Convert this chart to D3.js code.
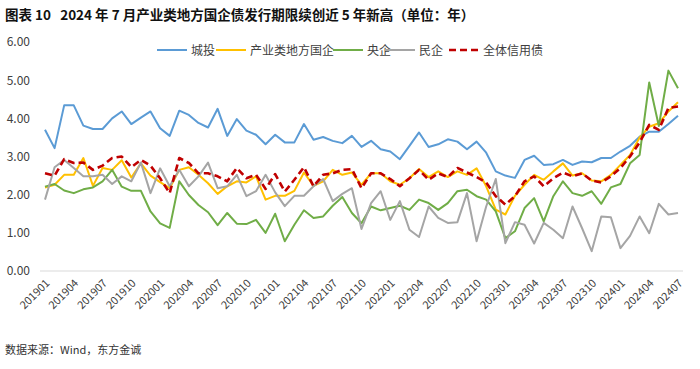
<!DOCTYPE html>
<html>
<head>
<meta charset="utf-8">
<script src="https://cdn.jsdelivr.net/npm/d3@7"></script>
<style>
  body { margin: 0; background: #fff; }
  text { font-family: "Noto Sans CJK SC", "Liberation Sans", sans-serif; }
</style>
</head>
<body>
<svg width="700" height="369"></svg>
<script>
// monthly issue tenor, 2019-01 .. 2024-07
const months = [
  "201901","201902","201903","201904","201905","201906","201907","201908","201909","201910","201911","201912",
  "202001","202002","202003","202004","202005","202006","202007","202008","202009","202010","202011","202012",
  "202101","202102","202103","202104","202105","202106","202107","202108","202109","202110","202111","202112",
  "202201","202202","202203","202204","202205","202206","202207","202208","202209","202210","202211","202212",
  "202301","202302","202303","202304","202305","202306","202307","202308","202309","202310","202311","202312",
  "202401","202402","202403","202404","202405","202406","202407"
];
const tickLabels = ["201901","201904","201907","201910","202001","202004","202007","202010","202101","202104",
  "202107","202110","202201","202204","202207","202210","202301","202304","202307","202310","202401","202404","202407"];
const yTicks = [0, 1, 2, 3, 4, 5, 6];

const chengtou = [3.70,3.22,4.34,4.34,3.81,3.72,3.72,4.00,4.18,3.85,4.02,4.18,
  3.74,3.54,4.20,4.09,3.88,3.76,4.25,3.54,3.98,3.68,3.57,3.32,
  3.57,3.37,3.37,3.85,3.44,3.51,3.41,3.35,3.54,3.25,3.41,3.19,
  3.13,2.93,3.28,3.63,3.25,3.32,3.45,3.39,3.19,3.39,3.10,2.61,
  2.50,2.44,2.91,3.02,2.78,2.80,2.91,2.78,2.87,2.85,2.96,2.96,
  3.13,3.28,3.52,3.65,3.65,3.85,4.07];
const chanye = [2.19,2.26,2.52,2.52,2.96,2.23,2.70,2.65,2.90,2.45,2.82,2.50,
  2.33,2.17,2.65,2.72,2.52,2.30,2.02,2.22,2.35,2.32,2.48,1.87,
  1.97,1.97,2.10,2.58,2.23,2.35,2.65,2.52,2.58,2.26,2.56,2.56,
  2.35,2.26,2.43,2.67,2.46,2.61,2.46,2.61,2.52,2.69,2.22,1.61,
  1.48,1.97,2.26,2.52,2.39,2.61,2.82,2.50,2.56,2.37,2.35,2.52,
  2.78,3.04,3.50,3.78,3.87,4.18,4.42];
const yangqi = [2.21,2.28,2.11,2.04,2.14,2.19,2.35,2.65,2.21,2.10,2.10,1.56,
  1.25,1.13,2.35,1.99,1.73,1.54,1.20,1.52,1.24,1.23,1.34,1.00,
  1.50,0.78,1.21,1.59,1.39,1.43,1.71,1.94,1.52,1.25,1.69,1.59,
  1.65,1.71,1.60,1.87,1.78,1.60,1.78,2.09,2.13,1.96,1.87,1.56,
  0.86,1.04,1.65,1.91,1.30,1.96,2.35,2.04,1.97,2.09,1.76,2.19,
  2.28,2.82,3.04,4.94,3.80,5.25,4.79];
const minqi = [1.87,2.72,2.91,2.70,2.48,2.48,2.52,2.28,2.48,2.35,2.84,2.04,
  2.69,2.22,2.65,2.22,2.48,2.84,2.17,2.22,2.52,1.96,2.09,2.52,
  2.06,1.70,1.97,1.97,2.22,2.41,1.83,2.02,2.17,1.10,1.78,2.09,
  1.34,1.83,1.08,0.89,1.69,1.39,1.26,1.28,2.04,0.78,1.69,2.41,
  0.73,1.28,1.21,0.72,1.26,1.08,0.86,1.69,1.12,0.52,1.43,1.41,
  0.60,0.92,1.43,0.99,1.76,1.48,1.52];
const quanti = [2.56,2.50,2.93,2.83,2.84,2.65,2.76,2.96,3.00,2.72,2.91,2.76,
  2.43,2.04,2.96,2.83,2.56,2.56,2.48,2.35,2.70,2.43,2.52,2.15,
  2.54,2.08,2.39,2.72,2.22,2.52,2.56,2.65,2.67,2.17,2.56,2.56,
  2.41,2.22,2.43,2.65,2.39,2.56,2.46,2.70,2.58,2.46,2.32,1.96,
  1.74,1.96,2.35,2.48,2.22,2.43,2.58,2.48,2.56,2.37,2.32,2.48,
  2.70,3.00,3.37,3.83,3.70,4.27,4.31];

const series = [
  { name: "城投", values: chengtou, color: "#5B9BD5", dash: null },
  { name: "产业类地方国企", values: chanye, color: "#FFC000", dash: null },
  { name: "央企", values: yangqi, color: "#70AD47", dash: null },
  { name: "民企", values: minqi, color: "#A5A5A5", dash: null },
  { name: "全体信用债", values: quanti, color: "#C00000", dash: "7,4" },
];

const svg = d3.select("svg");

// title
svg.append("text")
  .attr("x", 5).attr("y", 20)
  .attr("font-size", 13.5).attr("font-weight", "bold").attr("fill", "#111")
  .attr("xml:space", "preserve")
  .text("图表 10   2024 年 7 月产业类地方国企债发行期限续创近 5 年新高（单位：年）");

const x = d3.scalePoint().domain(months).range([45, 678]);
const y = d3.scaleLinear().domain([0, 6]).range([271, 42]);

// y axis labels, no line
const yAxis = svg.append("g").attr("transform", "translate(33,0)")
  .call(d3.axisLeft(y).tickValues(yTicks).tickFormat(d3.format(".2f")).tickSize(0));
yAxis.select(".domain").remove();
yAxis.selectAll("text").attr("font-size", 12).attr("fill", "#404040")
  .attr("font-family", "Liberation Sans, sans-serif");

// baseline
svg.append("line")
  .attr("x1", 40).attr("x2", 683)
  .attr("y1", y(0)).attr("y2", y(0))
  .attr("stroke", "#d9d9d9").attr("stroke-width", 1);

// x axis labels rotated
const xAxis = svg.append("g").attr("transform", `translate(0,${y(0)})`)
  .call(d3.axisBottom(x).tickValues(tickLabels).tickSize(0));
xAxis.select(".domain").remove();
xAxis.selectAll("text")
  .attr("font-size", 11).attr("fill", "#404040")
  .attr("font-family", "Liberation Sans, sans-serif")
  .attr("text-anchor", "end")
  .attr("dy", "0.35em")
  .attr("transform", "translate(0,8) rotate(-45)");

// lines
const line = d3.line()
  .x((d, i) => x(months[i]))
  .y((d) => y(d));

svg.selectAll("path.series")
  .data(series)
  .enter()
  .append("path")
  .attr("class", "series")
  .attr("fill", "none")
  .attr("stroke", (d) => d.color)
  .attr("stroke-width", (d) => d.dash ? 2.6 : 2)
  .attr("stroke-dasharray", (d) => d.dash)
  .attr("stroke-linejoin", "round")
  .attr("d", (d) => line(d.values));

// legend
const legendX = [157, 216, 333, 385, 449];
const lg = svg.selectAll("g.legend")
  .data(series)
  .enter()
  .append("g")
  .attr("class", "legend")
  .attr("transform", (d, i) => `translate(${legendX[i]},50)`);
lg.append("line")
  .attr("x1", 0).attr("x2", 30).attr("y1", 0).attr("y2", 0)
  .attr("stroke", (d) => d.color)
  .attr("stroke-width", (d) => d.dash ? 2.6 : 2)
  .attr("stroke-dasharray", (d) => d.dash);
lg.append("text")
  .attr("x", 34).attr("y", 4.5)
  .attr("font-size", 12).attr("fill", "#404040")
  .text((d) => d.name);

// source
svg.append("text")
  .attr("x", 5).attr("y", 354)
  .attr("font-size", 11).attr("fill", "#333")
  .text("数据来源：Wind，东方金诚");
</script>
</body>
</html>
